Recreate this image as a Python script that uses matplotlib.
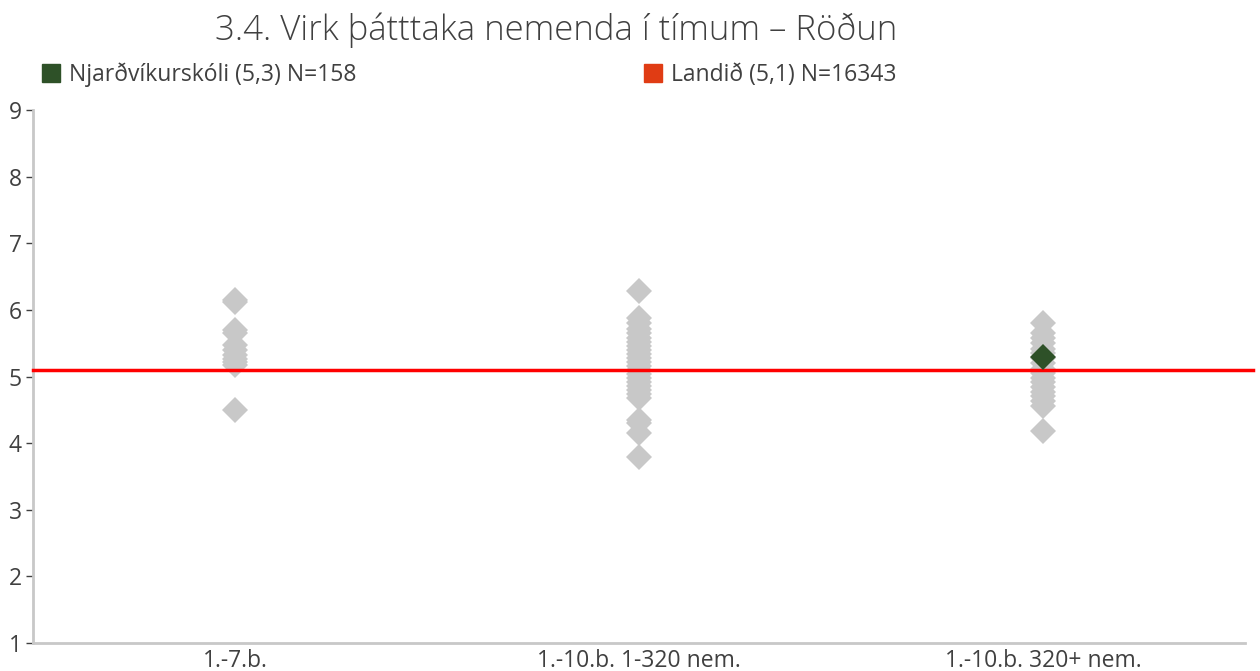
import matplotlib
matplotlib.use("Agg")
import matplotlib.pyplot as plt
from matplotlib.lines import Line2D

plt.rcParams["font.family"] = ["Open Sans", "DejaVu Sans"]

title = "3.4. Virk þátttaka nemenda í tímum – Röðun"
categories = ["1.-7.b.", "1.-10.b. 1-320 nem.", "1.-10.b. 320+ nem."]

# school averages per school-size group
group_small = [6.15, 6.12, 5.70, 5.66, 5.47, 5.40, 5.33, 5.27, 5.22, 5.18, 4.50]
group_mid = [6.29, 5.88, 5.80, 5.72, 5.65, 5.58, 5.52, 5.46, 5.40, 5.34, 5.28,
             5.22, 5.16, 5.10, 5.04, 4.98, 4.92, 4.86, 4.80, 4.74, 4.68, 4.35,
             4.30, 4.15, 3.79]
group_large = [5.81, 5.65, 5.58, 5.50, 5.42, 5.35, 5.28, 5.20, 5.12, 5.05, 4.98,
               4.91, 4.84, 4.77, 4.70, 4.63, 4.56, 4.18]

school_name = "Njarðvíkurskóli"
school_score = 5.3
school_n = 158
school_group = 2

national_name = "Landið"
national_score = 5.1
national_n = 16343

yticks = [1, 2, 3, 4, 5, 6, 7, 8, 9]

grey = "#c8c8c8"
green = "#2e5128"
red = "#ff0000"
legend_red = "#e03c14"
text_col = "#404040"

fig = plt.figure(figsize=(12.6, 6.71), dpi=100)
ax = fig.add_axes([33 / 1260, 1 - 643 / 671, (1245 - 33) / 1260, (643 - 110) / 671])
ax.set_xlim(0, 3)
ax.set_ylim(1, 9)

for i, vals in enumerate([group_small, group_mid, group_large]):
    ax.plot([i + 0.5] * len(vals), vals, linestyle="none", marker="D",
            markersize=13, color=grey, markeredgewidth=0, zorder=2)

ax.plot([0, 3.02], [national_score, national_score], color=red,
        linewidth=2.5, zorder=3, clip_on=False)
ax.plot([school_group + 0.5], [school_score], linestyle="none", marker="D",
        markersize=13, color=green, markeredgewidth=0, zorder=4)

ax.set_yticks(yticks)
ax.set_xticks([0.5, 1.5, 2.5])
ax.set_xticklabels(categories)
ax.tick_params(axis="x", length=0, pad=4, labelsize=16.5, labelcolor=text_col)
ax.tick_params(axis="y", length=5, width=1, color=text_col, pad=3,
               labelsize=16.5, labelcolor=text_col)
for s in ["top", "right"]:
    ax.spines[s].set_visible(False)
for s in ["left", "bottom"]:
    ax.spines[s].set_color(grey)
    ax.spines[s].set_linewidth(2)

fig.text(556 / 1260, 1 - 30 / 671, title, ha="center", va="center",
         fontsize=25, color=text_col, fontweight="light")

def fmt(v):
    return f"{v:.1f}".replace(".", ",")

handles = [
    Line2D([], [], linestyle="none", marker="s", markersize=13, color=green),
    Line2D([], [], linestyle="none", marker="s", markersize=13, color=legend_red),
]
labels = [
    f"{school_name} ({fmt(school_score)}) N={school_n}",
    f"{national_name} ({fmt(national_score)}) N={national_n}",
]
fig.legend(handles, labels, loc="center left",
           bbox_to_anchor=(33 / 1260, 1 - 75 / 671), ncol=2, frameon=False,
           fontsize=16.5, labelcolor=text_col, handlelength=0.75,
           handletextpad=0.4, columnspacing=12.6, borderaxespad=0)

fig.savefig("out.png", dpi=100)
